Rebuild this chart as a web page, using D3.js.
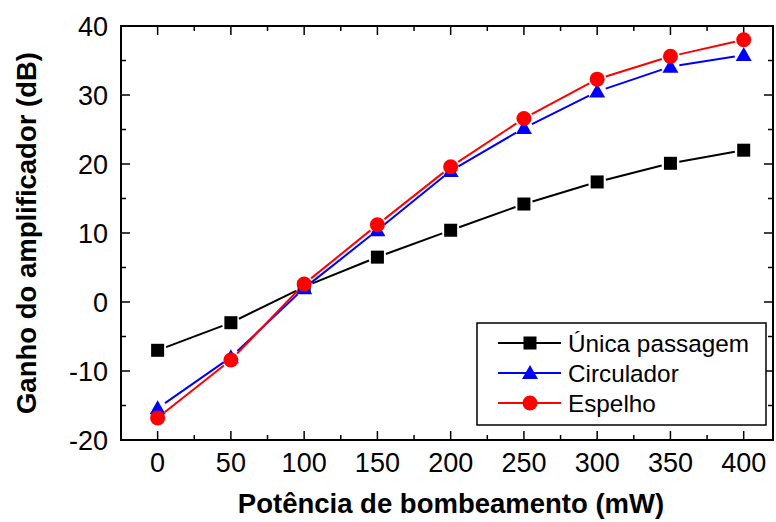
<!DOCTYPE html>
<html><head><meta charset="utf-8">
<script src="https://cdn.jsdelivr.net/npm/d3@7"></script>
<style>body{margin:0;background:#fff}svg{display:block}text{font-family:"Liberation Sans",Arial,sans-serif}</style>
</head><body>
<script>
const power = [0, 50, 100, 150, 200, 250, 300, 350, 400];
const unica = [-7.0, -3.0, 2.2, 6.5, 10.4, 14.2, 17.4, 20.1, 22.0];
const circulador = [-15.4, -8.0, 2.0, 10.4, 19.0, 25.2, 30.5, 34.1, 35.8];
const espelho = [-16.8, -8.4, 2.6, 11.2, 19.6, 26.6, 32.3, 35.6, 38.0];
const seriesNames = ["Única passagem", "Circulador", "Espelho"];
const xTicks = [0, 50, 100, 150, 200, 250, 300, 350, 400];
const yTicks = [-20, -10, 0, 10, 20, 30, 40];
const xTitle = "Potência de bombeamento (mW)";
const yTitle = "Ganho do amplificador (dB)";

const W = 776, H = 522;
const m = {left: 121, right: 3, top: 26, bottom: 82};
const svg = d3.select("body").append("svg").attr("width", W).attr("height", H);
const x = d3.scaleLinear().domain([-25, 420]).range([m.left, W - m.right]);
const y = d3.scaleLinear().domain([-20, 40]).range([H - m.bottom, m.top]);
const x0 = x.range()[0], x1 = x.range()[1], y0 = y.range()[0], y1 = y.range()[1];

const xMinor = d3.range(-25, 420, 25).filter(v => v % 50 !== 0 && v > -25);
const yMinor = d3.range(-15, 40, 10);
const major = 9, minor = 5;

// ticks
const g = svg.append("g").attr("stroke", "#000").attr("stroke-width", 1.5);
xTicks.forEach(v => {
  g.append("line").attr("x1", x(v)).attr("x2", x(v)).attr("y1", y0).attr("y2", y0 - major);
  g.append("line").attr("x1", x(v)).attr("x2", x(v)).attr("y1", y1).attr("y2", y1 + major);
});
xMinor.forEach(v => {
  g.append("line").attr("x1", x(v)).attr("x2", x(v)).attr("y1", y0).attr("y2", y0 - minor);
  g.append("line").attr("x1", x(v)).attr("x2", x(v)).attr("y1", y1).attr("y2", y1 + minor);
});
yTicks.forEach(v => {
  g.append("line").attr("y1", y(v)).attr("y2", y(v)).attr("x1", x0).attr("x2", x0 + major);
  g.append("line").attr("y1", y(v)).attr("y2", y(v)).attr("x1", x1).attr("x2", x1 - major);
});
yMinor.forEach(v => {
  g.append("line").attr("y1", y(v)).attr("y2", y(v)).attr("x1", x0).attr("x2", x0 + minor);
  g.append("line").attr("y1", y(v)).attr("y2", y(v)).attr("x1", x1).attr("x2", x1 - minor);
});
svg.append("rect").attr("x", x0).attr("y", y1).attr("width", x1 - x0).attr("height", y0 - y1)
  .attr("fill", "none").attr("stroke", "#000").attr("stroke-width", 2);

// tick labels
svg.append("g").selectAll("text").data(xTicks).join("text")
  .attr("x", d => x(d)).attr("y", 472).attr("text-anchor", "middle")
  .attr("font-size", 27).text(d => d);
svg.append("g").selectAll("text").data(yTicks).join("text")
  .attr("x", x0 - 13).attr("y", d => y(d) + 10).attr("text-anchor", "end")
  .attr("font-size", 27).text(d => d);

// titles
svg.append("text").attr("x", 451).attr("y", 513).attr("text-anchor", "middle")
  .attr("font-size", 27.5).attr("font-weight", "bold").text(xTitle);
svg.append("text").attr("transform", `translate(36,233) rotate(-90)`)
  .attr("text-anchor", "middle").attr("font-size", 27.5).attr("font-weight", "bold").text(yTitle);

// series
const series = [
  {name: seriesNames[0], vals: unica, color: "#000000", shape: "square"},
  {name: seriesNames[1], vals: circulador, color: "#0000ff", shape: "triangle"},
  {name: seriesNames[2], vals: espelho, color: "#ff0000", shape: "circle"}
];
function marker(sel, shape, color, cx, cy) {
  if (shape === "square") sel.append("rect").attr("x", cx - 6.5).attr("y", cy - 6.5).attr("width", 13).attr("height", 13).attr("fill", color);
  else if (shape === "triangle") sel.append("path").attr("d", `M${cx},${cy - 8}L${cx + 8},${cy + 6}L${cx - 8},${cy + 6}Z`).attr("fill", color);
  else sel.append("circle").attr("cx", cx).attr("cy", cy).attr("r", 7.5).attr("fill", color);
}
const gap = 9;
series.forEach(s => {
  const gs = svg.append("g");
  const pts = power.map((p, i) => [x(p), y(s.vals[i])]);
  for (let i = 0; i < pts.length - 1; i++) {
    const [ax, ay] = pts[i], [bx, by] = pts[i + 1];
    const L = Math.hypot(bx - ax, by - ay);
    if (L <= 2 * gap) continue;
    const ux = (bx - ax) / L, uy = (by - ay) / L;
    gs.append("line").attr("x1", ax + ux * gap).attr("y1", ay + uy * gap)
      .attr("x2", bx - ux * gap).attr("y2", by - uy * gap)
      .attr("stroke", s.color).attr("stroke-width", 2);
  }
  pts.forEach(([px, py]) => marker(gs, s.shape, s.color, px, py));
});

// legend
const lg = svg.append("g");
lg.append("rect").attr("x", 477).attr("y", 323).attr("width", 289).attr("height", 102)
  .attr("fill", "#fff").attr("stroke", "#000").attr("stroke-width", 1.5);
series.forEach((s, i) => {
  const ly = 343 + i * 30;
  lg.append("line").attr("x1", 498).attr("x2", 561).attr("y1", ly).attr("y2", ly)
    .attr("stroke", s.color).attr("stroke-width", 2);
  marker(lg, s.shape, s.color, 530, ly);
  lg.append("text").attr("x", 568).attr("y", ly + 9).attr("font-size", 24.3).text(s.name);
});
</script>
</body></html>
